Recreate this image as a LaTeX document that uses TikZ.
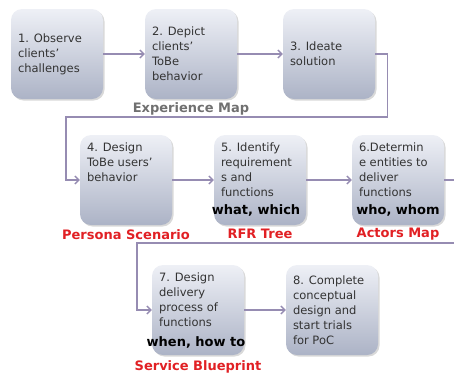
\documentclass[tikz,border=0pt]{standalone}
\usepackage{fontspec}
\setmainfont{DejaVu Sans}
\usetikzlibrary{positioning,shadows,arrows.meta}

\definecolor{boxtop}{RGB}{238,240,246}
\definecolor{boxbottom}{RGB}{172,179,198}
\definecolor{linkcol}{RGB}{150,140,178}
\definecolor{mapred}{RGB}{225,32,36}
\definecolor{mapgray}{RGB}{112,112,112}

\newcommand{\boxtext}[2][c]{\parbox[c][74pt][#1]{78pt}{\raggedright #2}}

\tikzset{
  stepbox/.style={rounded corners=11pt, top color=boxtop, bottom color=boxbottom,
    drop shadow={shadow xshift=1.5pt, shadow yshift=-1.5pt, opacity=0.3},
    minimum width=92pt, minimum height=90pt, inner sep=0pt,
    font=\fontsize{11.5}{15}\selectfont, text=black!80},
  flow/.style={linkcol, line width=1.3pt, -{Straight Barb[length=4pt,width=8pt]}},
  mapname/.style={font=\fontsize{13}{15}\selectfont\bfseries, text=mapred, inner sep=0pt},
  keyword/.style={font=\fontsize{13}{15}\selectfont\bfseries, text=black, inner sep=0pt, anchor=base},
}

\begin{document}
\begin{tikzpicture}[x=1pt, y=-1pt]

    \useasboundingbox (0,0) rectangle (454,376);

    % first row
    \node[stepbox] (observe) at (57,54) {\boxtext{1. Observe\\clients'\\challenges}};
    \node[stepbox] (depict) at (191,54) {\boxtext{2. Depict\\clients'\\ToBe\\behavior}};
    \node[stepbox] (ideate) at (329,54) {\boxtext{3. Ideate\\solution}};

    % second row
    \node[stepbox] (design) at (126,180) {\boxtext[t]{4. Design\\ToBe users'\\behavior}};
    \node[stepbox] (identify) at (260,180) {\boxtext[t]{5. Identify\\requirement\\s and\\functions}};
    \node[stepbox] (determine) at (398,180) {\boxtext[t]{6.Determin\\e entities to\\deliver\\functions}};

    % third row
    \node[stepbox] (deliver) at (198,310) {\boxtext[t]{7. Design\\delivery\\process of\\functions}};
    \node[stepbox] (complete) at (332,310) {\boxtext{8. Complete\\conceptual\\design and\\start trials\\for PoC}};

    \draw[flow] (observe) -- (depict);
    \draw[flow] (depict) -- (ideate);
    \draw[flow] (ideate.east) -- ++(12,0) |- (66,117) |- (design.west);
    \draw[flow] (design) -- (identify);
    \draw[flow] (identify) -- (determine);
    \draw[flow] (determine.east) -- ++(15,0) |- (137,243) |- (deliver.west);
    \draw[flow] (deliver) -- (complete);

    \node[mapname, text=mapgray, below=3pt of depict] (expmap) {Experience Map};
    \node[mapname, below=4pt of design] (persona) {Persona Scenario};
    \node[mapname, below=4pt of identify] (rfr) {RFR Tree};
    \node[mapname, below=3pt of determine] (actors) {Actors Map};
    \node[mapname, below=5pt of deliver] (blueprint) {Service Blueprint};

    \node[keyword] (what) at ([xshift=-4pt,yshift=11pt]identify.south) {what, which};
    \node[keyword] (who) at ([yshift=11pt]determine.south) {who, whom};
    \node[keyword] (when) at ([xshift=-2pt,yshift=9pt]deliver.south) {when, how to};

\end{tikzpicture}
\end{document}
